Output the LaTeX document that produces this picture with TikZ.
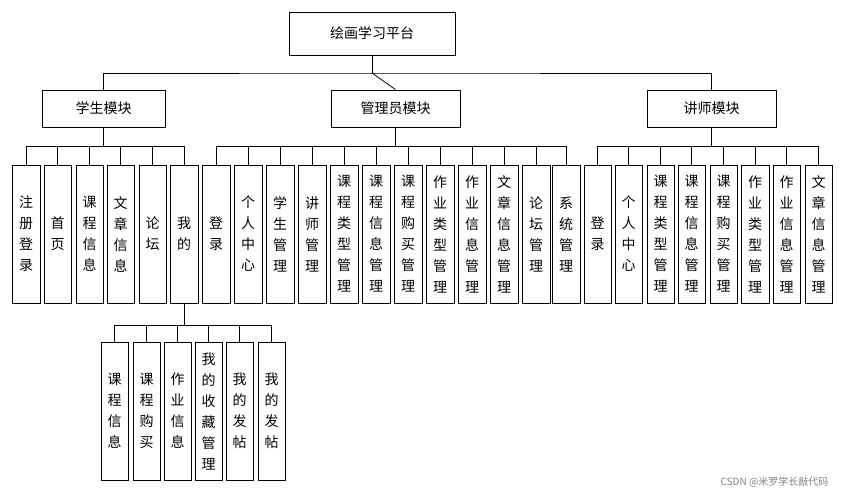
\documentclass[tikz,border=0pt]{standalone}
\usepackage{fontspec}
\newfontfamily\cjk{Noto Sans CJK SC}
\begin{document}
\begin{tikzpicture}[x=1pt,y=-1pt,
  box/.style={draw,thick,inner sep=0pt,font=\cjk\fontsize{14}{21}\selectfont},
  vbox/.style={box,align=center},
  ln/.style={thick}]
\useasboundingbox (0,0) rectangle (842,496);
\node[box,minimum width=166,minimum height=43] (root) at (372,33.5) {绘画学习平台};
\node[box,minimum width=123,minimum height=37] (m1) at (103.5,108.5) {学生模块};
\node[box,minimum width=129,minimum height=37] (m2) at (395.5,108.5) {管理员模块};
\node[box,minimum width=129,minimum height=37] (m3) at (711.5,108.5) {讲师模块};
\coordinate (r0) at (372,73);
\draw[ln] (root.south) -- (r0);
\draw[ln] (m1.north) |- (r0) -| (m3.north);
\draw[ln] (r0) -- (m2.north);
% generic children
\newcommand\kids[5]{% parent, busy, top, bottom, list x1/x2/text/name
  \foreach \a/\b/\t/\n in {#5}{
    \node[vbox,minimum width=\b-\a,minimum height=#4-#3] (\n) at ({(\a+\b)/2},{(#3+#4)/2}) {\t};
    \draw[ln] (\n.north) -- ({(\a+\b)/2},#2) -- ({(\a+\b)/2},#2) ;
  }}
\kids{m1}{146}{165}{303}{12/40/{注\\册\\登\\录}/s1,44/71/{首\\页}/s2,76/103/{课\\程\\信\\息}/s3,107/134/{文\\章\\信\\息}/s4,139/166/{论\\坛}/s5,170/198/{我\\的}/s6}
\draw[ln] (s1.north|-0,146) -- (s6.north|-0,146); \draw[ln] (m1.south) -- (m1.south|-0,146);
\kids{s6}{325}{342}{480}{101/128/{课\\程\\信\\息}/w1,133/160/{课\\程\\购\\买}/w2,164/191/{作\\业\\信\\息}/w3,195/222/{我\\的\\收\\藏\\管\\理}/w4,226/253/{我\\的\\发\\帖}/w5,258/285/{我\\的\\发\\帖}/w6}
\draw[ln] (w1.north|-0,325) -- (w6.north|-0,325); \draw[ln] (s6.south) -- (s6.south|-0,325);
\kids{m2}{146}{165}{303}{202/230/{登\\录}/a1,234/262/{个\\人\\中\\心}/a2,266/294/{学\\生\\管\\理}/a3,298/326/{讲\\师\\管\\理}/a4,330/358/{课\\程\\类\\型\\管\\理}/a5,362/390/{课\\程\\信\\息\\管\\理}/a6,394/422/{课\\程\\购\\买\\管\\理}/a7,426/454/{作\\业\\类\\型\\管\\理}/a8,458/486/{作\\业\\信\\息\\管\\理}/a9,490/518/{文\\章\\信\\息\\管\\理}/a10,522/550/{论\\坛\\管\\理}/a11,552/580/{系\\统\\管\\理}/a12}
\draw[ln] (a1.north|-0,146) -- (a12.north|-0,146); \draw[ln] (m2.south) -- (m2.south|-0,146);
\kids{m3}{146}{165}{303}{584/611/{登\\录}/t1,615/642/{个\\人\\中\\心}/t2,647/674/{课\\程\\类\\型\\管\\理}/t3,678/705/{课\\程\\信\\息\\管\\理}/t4,710/737/{课\\程\\购\\买\\管\\理}/t5,741/769/{作\\业\\类\\型\\管\\理}/t6,773/800/{作\\业\\信\\息\\管\\理}/t7,805/832/{文\\章\\信\\息\\管\\理}/t8}
\draw[ln] (t1.north|-0,146) -- (t8.north|-0,146); \draw[ln] (m3.south) -- (m3.south|-0,146);
\node[anchor=east,text=gray,font=\cjk\fontsize{10}{12}\selectfont] (wm) at (832,482) {CSDN @米罗学长敲代码};
\end{tikzpicture}
\end{document}
